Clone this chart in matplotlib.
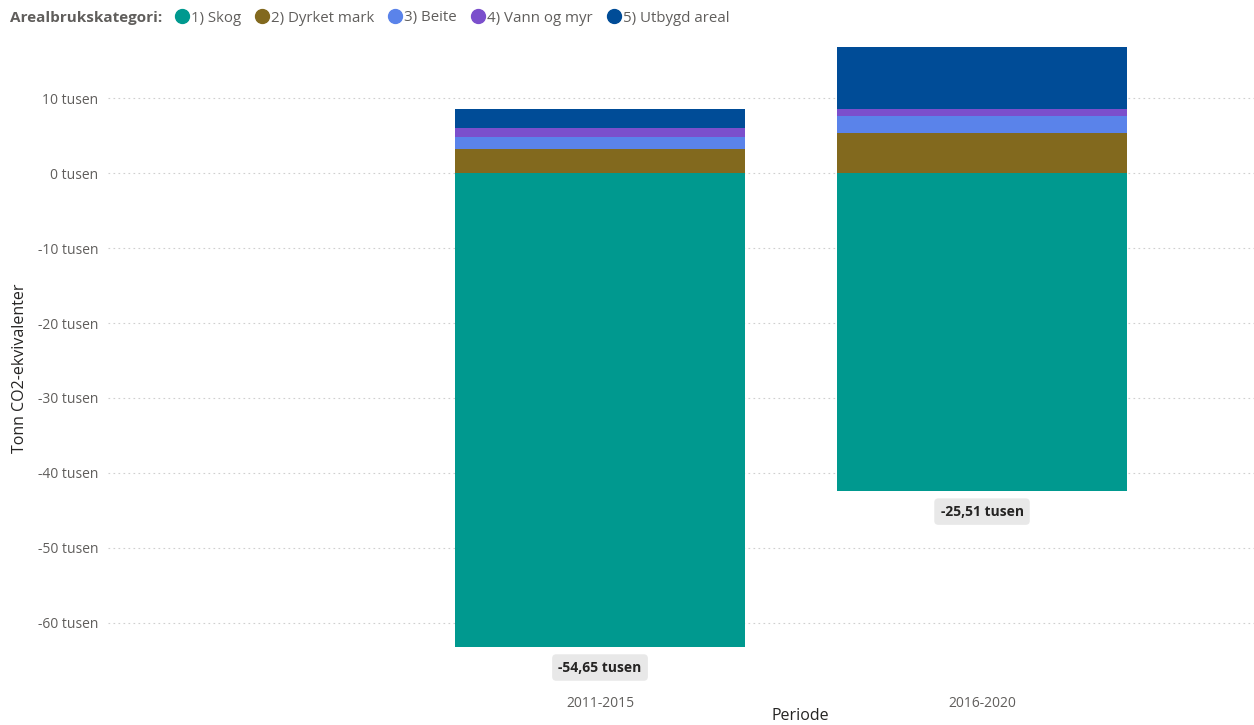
import matplotlib
matplotlib.use("Agg")
import matplotlib.pyplot as plt
from matplotlib.lines import Line2D
import numpy as np

periods = ["2011-2015", "2016-2020"]
categories = ["1) Skog", "2) Dyrket mark", "3) Beite", "4) Vann og myr", "5) Utbygd areal"]
skog = [-63.14, -42.35]
dyrket = [3.20, 5.29]
beite = [1.64, 2.35]
vann = [1.12, 0.89]
utbygd = [2.53, 8.31]
totals_label = ["-54,65 tusen", "-25,51 tusen"]
colors = ["#00998F", "#82691E", "#5A83EA", "#7B4FCC", "#004C97"]
yticks = [10, 0, -10, -20, -30, -40, -50, -60]

plt.rcParams['font.family'] = ['Open Sans', 'DejaVu Sans']

fig = plt.figure(figsize=(12.54, 7.25), dpi=100)
ax = fig.add_axes([108/1254, 1-652/725, 1-108/1254, (652-45)/725])

x = np.arange(len(periods))
series = [skog, dyrket, beite, vann, utbygd]
pos_bottom = np.zeros(len(periods))
neg_bottom = np.zeros(len(periods))
for vals, c in zip(series, colors):
    vals = np.array(vals)
    bottoms = np.where(vals >= 0, pos_bottom, neg_bottom)
    ax.bar(x, vals, bottom=bottoms, width=0.76, color=c, edgecolor='none', zorder=3)
    pos_bottom = pos_bottom + np.where(vals >= 0, vals, 0)
    neg_bottom = neg_bottom + np.where(vals < 0, vals, 0)

for i in range(len(periods)):
    ax.annotate(totals_label[i], xy=(x[i], neg_bottom[i]), xytext=(0, -21),
                textcoords='offset pixels', ha='center', va='center',
                fontsize=10, fontweight='bold', color='#252423',
                bbox=dict(boxstyle='round,pad=0.45,rounding_size=0.3',
                          fc='#E8E8E8', ec='none'), zorder=5)

ax.set_xlim(-1.288, 1.712)
ax.set_ylim(-63.87, 17.07)
ax.set_yticks(yticks)
ax.set_yticklabels([f"{t} tusen" for t in yticks], fontsize=10, color='#605E5C')
ax.set_xticks(x)
ax.set_xticklabels(periods, fontsize=10, color='#605E5C')
ax.tick_params(axis='both', length=0)
ax.tick_params(axis='y', pad=7)
ax.tick_params(axis='x', pad=32)
for s in ax.spines.values():
    s.set_visible(False)
ax.grid(axis='y', color='#CFCFCF', linestyle=(0, (1.5, 3)), linewidth=0.8, zorder=0)

fig.text(20/1254, 1-368/725, "Tonn CO2-ekvivalenter", rotation=90, ha='center', va='center',
         fontsize=11.5, color='#252423')
fig.text(800/1254, 1-716/725, "Periode", ha='center', va='center', fontsize=11.5, color='#252423')

fig.text(10/1254, 1-18/725, "Arealbrukskategori:", ha='left', va='center',
         fontsize=11, fontweight='bold', color='#605E5C')
handles = [Line2D([0], [0], marker='o', linestyle='none', markersize=10,
                  markerfacecolor=c, markeredgecolor=c) for c in colors]
leg = fig.legend(handles, categories, loc='center left', bbox_to_anchor=(173/1254, 1-18/725),
                 ncol=5, frameon=False, handletextpad=0.0, columnspacing=0.8,
                 fontsize=10.8, handlelength=1.2, borderaxespad=0, borderpad=0)
for t in leg.get_texts():
    t.set_color('#605E5C')

fig.savefig("out.png", dpi=100)
